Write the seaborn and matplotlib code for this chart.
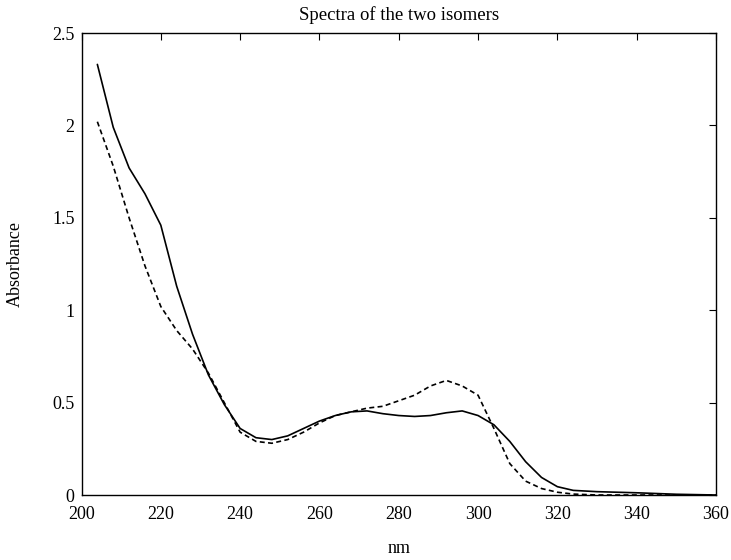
import numpy as np
import pandas as pd
import matplotlib
matplotlib.use("Agg")
import matplotlib.pyplot as plt
import seaborn as sns

wavelength = [204, 208, 212, 216, 220, 224, 228, 232, 236, 240, 244, 248, 252, 256,
              260, 264, 268, 272, 276, 280, 284, 288, 292, 296, 300, 304, 308, 312,
              316, 320, 324, 330, 340, 350, 360]
isomer_1 = [2.33, 1.99, 1.77, 1.63, 1.46, 1.13, 0.87, 0.65, 0.49, 0.36, 0.31, 0.30,
            0.32, 0.36, 0.40, 0.43, 0.45, 0.455, 0.44, 0.43, 0.425, 0.43, 0.445, 0.455,
            0.43, 0.38, 0.29, 0.18, 0.095, 0.045, 0.025, 0.018, 0.012, 0.004, 0.0]
isomer_2 = [2.02, 1.78, 1.50, 1.24, 1.02, 0.89, 0.79, 0.66, 0.50, 0.34, 0.29, 0.28,
            0.30, 0.34, 0.39, 0.43, 0.45, 0.47, 0.48, 0.51, 0.54, 0.59, 0.62, 0.59,
            0.54, 0.36, 0.17, 0.075, 0.035, 0.015, 0.005, 0.0, 0.0, 0.0, 0.0]

xticks = [200, 220, 240, 260, 280, 300, 320, 340, 360]
yticks = [0, 0.5, 1, 1.5, 2, 2.5]
yticklabels = ["0", "0.5", "1", "1.5", "2", "2.5"]

df = pd.DataFrame({
    "nm": wavelength * 2,
    "Absorbance": isomer_1 + isomer_2,
    "isomer": ["1"] * len(wavelength) + ["2"] * len(wavelength),
})

sns.set_theme(style="white")
plt.rcParams["font.family"] = ["Liberation Serif", "DejaVu Serif"]

fig = plt.figure(figsize=(7.31, 5.6), dpi=100)
ax = fig.add_axes([81.5 / 731, 1 - 495 / 560, (716 - 81.5) / 731, (495 - 33) / 560])

sns.lineplot(data=df, x="nm", y="Absorbance", style="isomer",
             dashes={"1": "", "2": (3, 2)}, color="black", linewidth=1.2,
             legend=False, ax=ax, sort=False, estimator=None)

ax.set_xlim(200, 360)
ax.set_ylim(0, 2.5)
ax.set_xticks(xticks)
ax.set_xticklabels([str(t) for t in xticks])
ax.set_yticks(yticks)
ax.set_yticklabels(yticklabels)
ax.tick_params(direction="in", length=5, width=0.8, top=True, right=True,
               labelsize=13, colors="black", pad=5)
ax.tick_params(axis="x", pad=8)
for s in ax.spines.values():
    s.set_visible(True)
    s.set_color("black")
    s.set_linewidth(1.0)
ax.set_title("Spectra of the two isomers", fontsize=13.5, pad=9, color="black")
ax.set_xlabel("nm", fontsize=13, labelpad=12, color="black")
ax.set_ylabel("Absorbance", fontsize=13, labelpad=20, color="black")

fig.savefig("out.png", dpi=100, facecolor="white")
